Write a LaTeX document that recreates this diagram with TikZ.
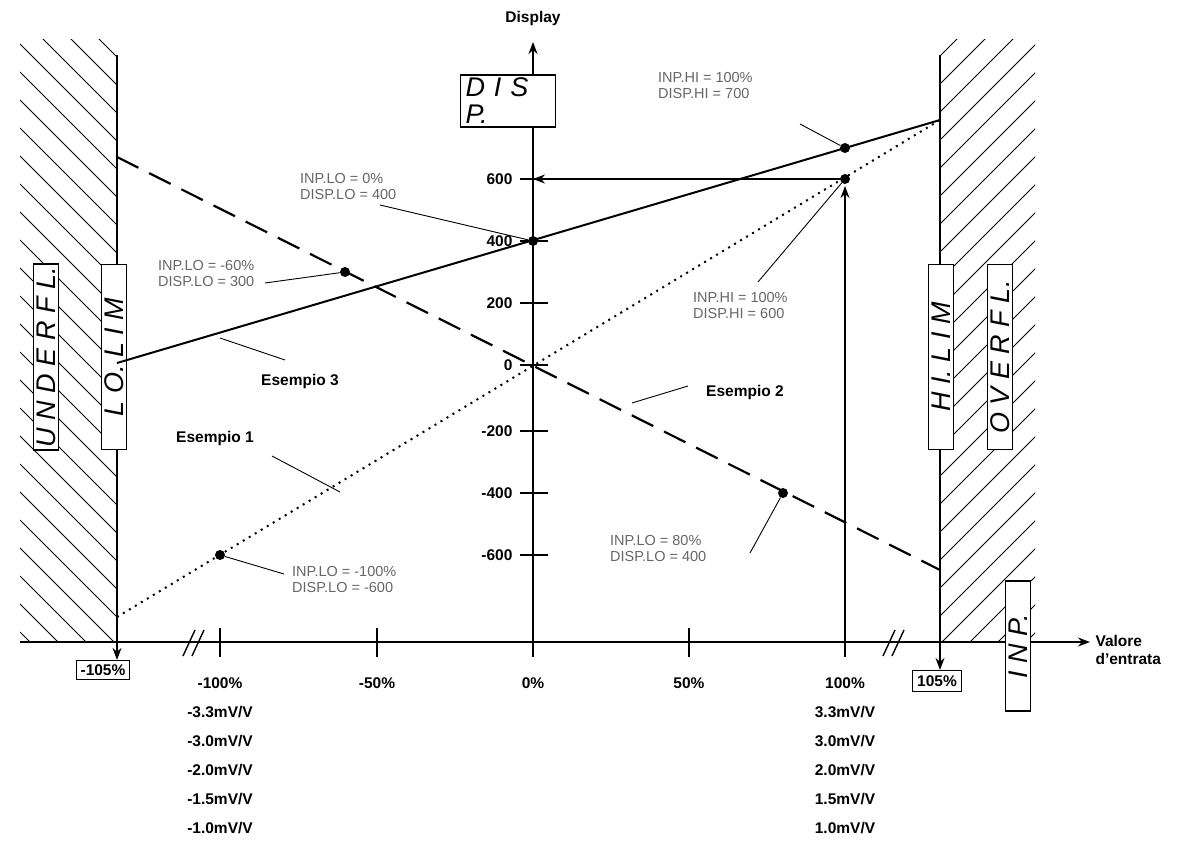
\documentclass[tikz,border=0pt]{standalone}
\usepackage{fontspec}
\setmainfont{Liberation Sans}
\usetikzlibrary{arrows.meta}
\tikzstyle{lbl} = [font=\bfseries\fontsize{15.5}{18}\selectfont]
\tikzstyle{note} = [font=\fontsize{14.5}{16}\selectfont, text=black!60, align=left, inner sep=0pt]
\tikzstyle{lcd} = [draw, line width=1.2pt, font=\itshape\fontsize{27}{27}\selectfont, inner sep=3pt]
\tikzstyle{dot} = [circle, fill, inner sep=0pt, minimum size=10pt]
\tikzstyle{lead} = [line width=0.9pt]

\begin{document}
\begin{tikzpicture}[x=1pt,y=-1pt,>={Stealth[length=12pt,width=9pt]}]
\useasboundingbox (0,0) rectangle (1184,853);

% Hatched limit zones
    \begin{scope}
    \clip (20,40) rectangle (117,642);
    \foreach \i in {0,28,...,840} \draw[line width=1pt] (20,\i-40) -- ++(100,100);
    \end{scope}
    \begin{scope}
    \clip (940,40) rectangle (1035,642);
    \foreach \i in {0,28,...,840} \draw[line width=1pt] (940,\i) -- ++(100,-100);
    \end{scope}

% Axes
    \node[lbl] (disp) at (533,18) {Display};
    \node[lbl, align=left, anchor=west] (valore) at (1092,650) {Valore\\d'entrata};
    \coordinate (ybot) at (533,642);
    \coordinate (ytop) at (533,42);
    \coordinate (xl) at (20,642);
    \coordinate (xr) at (1090,642);
    \draw[line width=1.8pt,->] (ybot) -- (ytop);
    \draw[line width=1.8pt,->] (xl) -- (xr);

% Y ticks
    \foreach \v/\y in {600/179,400/241,200/303,0/365,-200/431,-400/493,-600/555} {
        \draw[line width=1.4pt] (520,\y) -- (548,\y);
        \node[lbl, anchor=east] (y\v) at (516,\y) {\v};
    }
% X ticks
    \foreach \p/\x in {-100/220,-50/377,0/533,50/689,100/845} {
        \draw[line width=1.4pt] (\x,628) -- (\x,657);
        \node[lbl] (x\p) at (\x,683) {\p\%};
    }
    \foreach \m [count=\k] in {3.3,3.0,2.0,1.5,1.0} {
        \node[lbl] (mn\k) at (220,683+29*\k) {-\m mV/V};
        \node[lbl] (mp\k) at (845,683+29*\k) {\m mV/V};
    }
% Axis breaks
    \draw[line width=1.4pt] (183,656) -- (195,630) (192,656) -- (204,630);
    \draw[line width=1.4pt] (883,656) -- (895,630) (892,656) -- (904,630);

% Limits
    \coordinate (llt) at (117,55);
    \coordinate (rlt) at (940,55);
    \node[lbl, draw, line width=1.2pt, inner sep=4pt] (m105) at (103,670) {-105\%};
    \node[lbl, draw, line width=1.2pt, inner sep=5pt] (p105) at (937,681) {105\%};
    \draw[line width=1.4pt,->] (llt) -- (m105.north -| llt);
    \draw[line width=1.4pt,->] (rlt) -- (p105.north -| rlt);

% Display boxes
    \node[lcd, fill=white, minimum width=95pt, text width=85pt] (dispbox) at (508,101) {D I S P.};
    \node[lcd, fill=white, rotate=90, minimum width=185pt] (underfl) at (46,357) {U N D E R F L.};
    \node[lcd, fill=white, rotate=90, minimum width=185pt] (lolim) at (114,357) {L O. L I M};
    \node[lcd, fill=white, rotate=90, minimum width=185pt] (hilim) at (941,357) {H I. L I M};
    \node[lcd, fill=white, rotate=90, minimum width=185pt] (overfl) at (1000,357) {O V E R F L.};
    \node[lcd, fill=white, rotate=90, minimum width=130pt] (inpbox) at (1018,646) {I N P.};

% 100% / 600 guide
    \node[dot] (hi700) at (845,148) {};
    \node[dot] (hi600) at (845,179) {};
    \coordinate (g100) at (845,642);
    \draw[line width=1.2pt,->] (g100) -- (845,186);
    \draw[line width=1.2pt,->] (hi600) -- (y600.east -| ybot);

% Curves
    \node[dot] (lo400) at (533,241) {};
    \node[dot] (lo300) at (345,272) {};
    \node[dot] (lo80) at (783,493) {};
    \node[dot] (lom100) at (220,555) {};
    \coordinate (s3a) at (117,363);
    \coordinate (s3b) at (940,120);
    \coordinate (s2a) at (117,157);
    \coordinate (s2b) at (940,570);
    \coordinate (s1a) at (117,617);
    \draw[line width=2pt] (s3a) -- (s3b);
    \draw[line width=2.2pt, dash pattern=on 24pt off 12pt] (s2a) -- (s2b);
    \draw[line width=2pt, dash pattern=on 2pt off 5pt] (s1a) -- (s3b);

% Notes
    \node[note, anchor=north west] (nhi700) at (658,72) {INP.HI = 100\%\\DISP.HI = 700};
    \node[note, anchor=north west] (nlo400) at (300,173) {INP.LO = 0\%\\DISP.LO = 400};
    \node[note, anchor=north west] (nlo300) at (158,260) {INP.LO = -60\%\\DISP.LO = 300};
    \node[note, anchor=north west] (nhi600) at (693,292) {INP.HI = 100\%\\DISP.HI = 600};
    \node[note, anchor=north west] (nlo80) at (610,535) {INP.LO = 80\%\\DISP.LO = 400};
    \node[note, anchor=north west] (nlom100) at (292,566) {INP.LO = -100\%\\DISP.LO = -600};
    \draw[lead] (800,124) -- (hi700);
    \draw[lead] (380,205) -- (lo400);
    \draw[lead] (265,283) -- (lo300);
    \draw[lead] (758,282) -- (hi600);
    \draw[lead] (750,553) -- (lo80);
    \draw[lead] (284,574) -- (lom100);

% Examples
    \node[lbl] (es3) at (300,381) {Esempio 3};
    \node[lbl] (es2) at (745,392) {Esempio 2};
    \node[lbl] (es1) at (215,438) {Esempio 1};
    \draw[lead] (220,338) -- (285,360);
    \draw[lead] (632,403) -- (688,386);
    \draw[lead] (272,456) -- (340,492);

\end{tikzpicture}
\end{document}
